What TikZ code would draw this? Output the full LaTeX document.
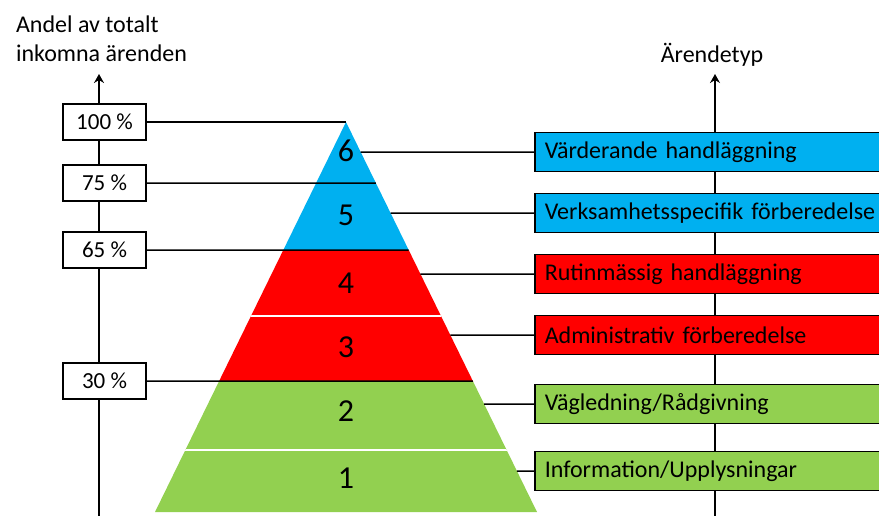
\documentclass[tikz,border=0pt]{standalone}
\usepackage{fontspec}
\setmainfont{Carlito}
\usetikzlibrary{calc,arrows.meta}
\definecolor{ablue}{HTML}{00B0F0}
\definecolor{ared}{HTML}{FF0000}
\definecolor{agreen}{HTML}{92D050}

\begin{document}
\begin{tikzpicture}[x=1pt,y=-1pt,line width=1.5pt,
	pct/.style={draw,fill=white,minimum width=83pt,minimum height=36pt,inner sep=0pt,font=\fontsize{23}{28}\selectfont},
	typ/.style={draw,anchor=west,text width=380pt,minimum height=39pt,inner xsep=10pt,align=left,font=\fontsize{24}{29}\selectfont},
	num/.style={font=\fontsize{32}{38}\selectfont},
	hdr/.style={font=\fontsize{24}{29}\selectfont},
	axis/.style={-{Stealth[length=9pt,width=10pt,inset=3pt]}}]
			\clip (0,0) rectangle (879,515);
			\coordinate (apex) at (346,122);
			\coordinate (bl) at (155,512);
			\coordinate (br) at (537,512);
			% blue, red, green parts of the pyramid
			\begin{scope}
				\clip (0,122) rectangle (879,250);
				\fill[ablue] (apex) -- (br) -- (bl) -- cycle;
			\end{scope}
			\begin{scope}
				\clip (0,250) rectangle (879,381);
				\fill[ared] (apex) -- (br) -- (bl) -- cycle;
			\end{scope}
			\begin{scope}
				\clip (0,381) rectangle (879,515);
				\fill[agreen] (apex) -- (br) -- (bl) -- cycle;
			\end{scope}
			\begin{scope}
				\clip (apex) -- (br) -- (bl) -- cycle;
				\draw[white,line width=2pt] (0,316) -- (879,316);
				\draw[white,line width=2pt] (0,450) -- (879,450);
			\end{scope}
			\node[num] (n6) at (346,151) {6};
			\node[num] (n5) at (346,215) {5};
			\node[num] (n4) at (346,283) {4};
			\node[num] (n3) at (346,347) {3};
			\node[num] (n2) at (346,411) {2};
			\node[num] (n1) at (346,478) {1};
			% axes
			\coordinate (ltop) at (99,74);
			\coordinate (lbot) at (99,520);
			\coordinate (rtop) at (715,74);
			\coordinate (rbot) at (715,520);
			\draw[axis] (lbot) -- (ltop);
			\draw[axis] (rbot) -- (rtop);
			\node[hdr,anchor=base west] (h1) at (12,32) {Andel av totalt};
			\node[hdr,anchor=base west] (h2) at (12,61) {inkomna ärenden};
			\node[hdr,anchor=base] (h3) at (712,62) {Ärendetyp};
			% percent marks
			\node[pct] (p100) at (104.5,122) {100 \%};
			\node[pct] (p75) at (104.5,183) {75 \%};
			\node[pct] (p65) at (104.5,250) {65 \%};
			\node[pct] (p30) at (104.5,381) {30 \%};
			\coordinate (r75) at ($(apex)!{61/390}!(br)$);
			\coordinate (r65) at ($(apex)!{128/390}!(br)$);
			\coordinate (r30) at ($(apex)!{259/390}!(br)$);
			\draw (p100) -- (apex);
			\draw (p75) -- (r75);
			\draw (p65) -- (r65);
			\draw (p30) -- (r30);
			% types
			\node[typ,fill=ablue] (t6) at (534,152) {Värderande handläggning};
			\node[typ,fill=ablue] (t5) at (534,213) {Verksamhetsspecifik förberedelse};
			\node[typ,fill=ared] (t4) at (534,274) {Rutinmässig handläggning};
			\node[typ,fill=ared] (t3) at (534,335) {Administrativ förberedelse};
			\node[typ,fill=agreen] (t2) at (534,404) {Vägledning/Rådgivning};
			\node[typ,fill=agreen] (t1) at (534,471) {Information/Upplysningar};
			\coordinate (e6) at ($(apex)!{30/390}!(br)$);
			\coordinate (e5) at ($(apex)!{91/390}!(br)$);
			\coordinate (e4) at ($(apex)!{152/390}!(br)$);
			\coordinate (e3) at ($(apex)!{213/390}!(br)$);
			\coordinate (e2) at ($(apex)!{282/390}!(br)$);
			\coordinate (e1) at ($(apex)!{349/390}!(br)$);
			\draw (e6) -- (t6);
			\draw (e5) -- (t5);
			\draw (e4) -- (t4);
			\draw (e3) -- (t3);
			\draw (e2) -- (t2);
			\draw (e1) -- (t1);
		\end{tikzpicture}
\end{document}
